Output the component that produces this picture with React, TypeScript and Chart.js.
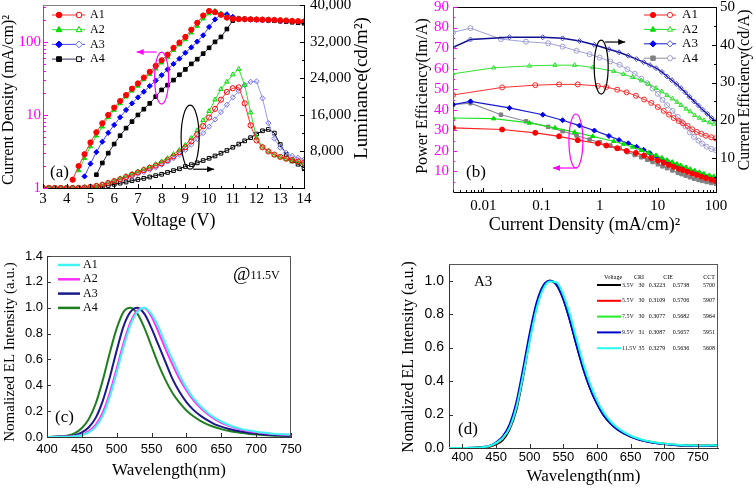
import React, { useEffect, useRef } from 'react';
import { Chart, registerables } from 'chart.js';

Chart.register(...registerables);

const SERIF = '"Liberation Serif", "Times New Roman", Times, serif';
const SANS = '"Liberation Sans", Arial, Helvetica, sans-serif';
const MAGENTA = '#ff00ff';

// ---------------- Panel (a): current density & luminance vs voltage ----------------
const voltage = [3, 3.25, 3.5, 3.75, 4, 4.25, 4.5, 4.75, 5, 5.25, 5.5, 5.75, 6, 6.25, 6.5, 6.75, 7, 7.25, 7.5, 7.75, 8, 8.25, 8.5, 8.75, 9, 9.25, 9.5, 9.75, 10, 10.25, 10.5, 10.75, 11, 11.25, 11.5, 11.75, 12, 12.25, 12.5, 12.75, 13, 13.25, 13.5, 13.75, 14];
const cdA1 = [null, null, null, null, null, 1.3, 2.0, 2.9, 4.2, 5.8, 7.7, 10, 12.6, 15.5, 18.7, 22.9, 27, 32.5, 39, 47, 56, 67, 83, 98, 117, 147, 183, 230, 265, 255, 235, 215, 207, 205, 205, 204, 203, 202, 201, 200, 198, 196, 194, 192, 190];
const cdA2 = [null, null, null, null, null, null, 1.74, 2.56, 3.7, 5.2, 6.9, 9.3, 11.7, 14.4, 17.8, 21.4, 25, 30.6, 36, 43, 52, 62, 77, 92, 108, 134, 165, 208, 245, 265, 245, 218, 208, 206, 205, 205, 204, 203, 202, 201, 199, 197, 195, 193, 191];
const cdA3 = [null, null, null, null, null, null, null, 1.44, 2.15, 3.1, 4.3, 5.7, 7.3, 9.3, 11.7, 14.4, 17.4, 20.8, 24.9, 29.5, 35, 42, 50, 59, 71, 84, 101, 123, 160, 203, 239, 239, 220, 208, 205, 203, 201, 200, 199, 197, 195, 193, 191, 189, 186];
const cdA4 = [null, null, null, null, null, null, null, null, null, 1.52, 2.2, 3.0, 4.0, 5.2, 6.6, 8.1, 10, 12, 14.4, 17.8, 22, 25.6, 30, 35.5, 42, 50, 58, 69, 83, 100, 117, 150, 196, 207, 205, 203, 201, 199, 197, 195, 192, 189, 186, 183, 180];
const lumA1 = [0, 0, 0, 0, 0, 0, 30, 100, 250, 450, 700, 1100, 1500, 1900, 2400, 2900, 3400, 3900, 4400, 4900, 5400, 6100, 6900, 7800, 8900, 10200, 11700, 13500, 15400, 17300, 19300, 21000, 21800, 22000, 18500, 13700, 10400, 8900, 8000, 7300, 6800, 6400, 6100, 5800, 5500];
const lumA2 = [0, 0, 0, 0, 0, 0, 50, 150, 300, 500, 800, 1200, 1600, 2100, 2600, 3100, 3600, 4100, 4600, 5200, 5800, 6500, 7400, 8300, 9400, 10900, 12600, 14800, 16800, 19300, 21600, 23200, 24800, 26000, 22500, 16500, 11000, 9000, 8000, 7200, 6700, 6300, 6000, 5700, 5300];
const lumA3 = [0, 0, 0, 0, 0, 0, 0, 80, 200, 400, 650, 1000, 1400, 1800, 2200, 2600, 3100, 3500, 4000, 4500, 5100, 5800, 6500, 7300, 8300, 9500, 10700, 12000, 13400, 15000, 16600, 18200, 19800, 21200, 22500, 23200, 23300, 19600, 14200, 10800, 8800, 7700, 7000, 6600, 6200];
const lumA4 = [0, 0, 0, 0, 0, 0, 0, 0, 0, 150, 350, 550, 800, 1050, 1300, 1600, 1850, 2100, 2400, 2700, 3000, 3400, 3800, 4200, 4700, 5100, 5500, 6000, 6500, 7000, 7600, 8200, 8900, 9600, 10300, 11000, 11800, 12500, 12800, 12000, 9500, 7300, 5900, 5200, 4400];
const voltageTicks = [3, 4, 5, 6, 7, 8, 9, 10, 11, 12, 13, 14];
const cdTicks = [1, 10, 100];
const lumTicks = [8000, 16000, 24000, 32000, 40000];
const deviceNames = ['A1', 'A2', 'A3', 'A4'];

// ---------------- Panel (b): efficiencies vs current density ----------------
const jA1 = [0.003, 0.021, 0.078, 0.2, 0.42, 0.93, 1.3, 2.0, 2.9, 4.2, 5.8, 7.7, 10, 12.6, 15.5, 18.7, 22.9, 27, 32.5, 39, 47, 56, 67, 83, 98];
const ceA1 = [26.7, 28.7, 29.3, 29.5, 29.5, 29.1, 28.8, 28.1, 27.4, 26.5, 25.5, 24.6, 23.5, 22.5, 21.5, 20.6, 19.8, 19.2, 18.5, 17.6, 16.9, 16.4, 15.9, 15.5, 15.2];
const peA1 = [31.2, 30.4, 28.8, 27.1, 25.2, 23.6, 22.6, 21.3, 20.0, 19.0, 17.7, 16.5, 15.3, 14.2, 13.1, 12.3, 11.3, 10.6, 9.8, 9.0, 8.3, 7.5, 6.8, 6.0, 5.4];
const jA2 = [0.003, 0.015, 0.062, 0.17, 0.37, 0.76, 1.74, 2.56, 3.7, 5.2, 6.9, 9.3, 11.7, 14.4, 17.8, 21.4, 25, 30.6, 36, 43, 52, 62, 77, 92];
const ceA2 = [32.3, 33.9, 34.4, 34.6, 34.6, 34.0, 33.0, 32.2, 31.4, 30.5, 29.6, 28.5, 27.6, 26.6, 25.7, 24.8, 24.0, 23.0, 22.3, 21.3, 20.6, 20.0, 19.4, 19.0];
const peA2 = [36.0, 35.7, 33.6, 31.2, 29.1, 27.1, 24.7, 23.3, 21.9, 20.3, 19.0, 17.8, 16.6, 15.5, 14.5, 13.6, 12.9, 12.0, 11.1, 10.4, 9.6, 8.9, 8.1, 7.6];
const jA3 = [0.003, 0.006, 0.028, 0.105, 0.23, 0.45, 0.81, 1.44, 2.15, 3.1, 4.3, 5.7, 7.3, 9.3, 11.7, 14.4, 17.4, 20.8, 24.9, 29.5, 35, 42, 50, 59, 71, 84, 99];
const ceA3 = [39.3, 41.4, 42.0, 42.0, 41.7, 41.0, 40.0, 38.8, 38.0, 37.1, 36.2, 35.4, 34.6, 33.8, 32.8, 31.6, 30.6, 29.6, 28.5, 27.4, 26.2, 25.0, 23.9, 22.8, 21.7, 20.6, 19.7];
const peA3 = [42.5, 44.1, 40.9, 37.6, 34.9, 32.3, 29.9, 27.3, 25.3, 23.7, 22.0, 20.5, 18.9, 17.4, 16.1, 15.0, 14.0, 13.0, 12.1, 11.3, 10.5, 9.7, 8.9, 8.2, 7.5, 6.9, 6.4];
const jA4 = [0.003, 0.006, 0.02, 0.054, 0.13, 0.23, 0.4, 0.67, 1.0, 1.52, 2.2, 3.0, 4.0, 5.2, 6.6, 8.1, 10, 12, 14.4, 17.8, 22, 25.6, 30, 35.5, 42, 50, 58, 69, 83, 100];
const ceA4 = [43.3, 44.4, 41.5, 40.8, 40.4, 39.5, 38.4, 37.5, 36.6, 35.6, 34.7, 33.5, 32.3, 31.0, 29.8, 28.4, 27.0, 25.4, 24.0, 22.5, 20.9, 19.6, 18.3, 16.8, 15.6, 14.6, 13.8, 13.0, 12.4, 12.0];
const peA4 = [42.5, 43.2, 37.6, 34.4, 31.7, 29.6, 27.5, 25.5, 24.2, 22.6, 21.2, 19.4, 18.0, 16.9, 15.7, 14.6, 13.5, 12.5, 11.6, 10.5, 9.4, 8.7, 8.0, 7.2, 6.5, 5.9, 5.4, 4.9, 4.4, 4.0];
const jTicks = [0.01, 0.1, 1, 10, 100];
const peTicks = [10, 20, 30, 40, 50, 60, 70, 80, 90];
const ceTicks = [10, 20, 30, 40, 50];

// ---------------- Panel (c): EL spectra @11.5V ----------------
const wlC = [400, 410, 420, 430, 440, 450, 460, 470, 480, 490, 500, 510, 520, 530, 540, 550, 560, 570, 580, 590, 600, 610, 620, 630, 640, 650, 660, 670, 680, 690, 700, 710, 720, 730, 740, 750];
const elA1 = [0, 0, 0.001, 0.002, 0.005, 0.014, 0.035, 0.08, 0.165, 0.31, 0.50, 0.70, 0.87, 0.97, 1.0, 0.95, 0.85, 0.72, 0.60, 0.48, 0.38, 0.30, 0.24, 0.19, 0.15, 0.12, 0.095, 0.076, 0.061, 0.05, 0.041, 0.034, 0.028, 0.024, 0.021, 0.019];
const elA2 = [0, 0, 0.001, 0.003, 0.007, 0.018, 0.045, 0.095, 0.19, 0.34, 0.53, 0.73, 0.89, 0.98, 0.995, 0.93, 0.81, 0.68, 0.56, 0.45, 0.36, 0.285, 0.225, 0.178, 0.14, 0.11, 0.088, 0.07, 0.056, 0.045, 0.036, 0.03, 0.025, 0.021, 0.018, 0.016];
const elA3 = [0, 0.001, 0.003, 0.006, 0.014, 0.035, 0.075, 0.15, 0.28, 0.46, 0.67, 0.86, 0.97, 1.0, 0.95, 0.84, 0.71, 0.58, 0.45, 0.35, 0.27, 0.21, 0.165, 0.13, 0.10, 0.08, 0.064, 0.05, 0.04, 0.032, 0.026, 0.021, 0.017, 0.013, 0.011, 0.009];
const elA4 = [0, 0.002, 0.005, 0.012, 0.03, 0.07, 0.14, 0.26, 0.44, 0.65, 0.84, 0.97, 1.0, 0.95, 0.84, 0.70, 0.56, 0.44, 0.34, 0.265, 0.205, 0.16, 0.125, 0.098, 0.077, 0.061, 0.048, 0.038, 0.03, 0.024, 0.019, 0.015, 0.012, 0.01, 0.008, 0.007];
const wlTicksC = [400, 450, 500, 550, 600, 650, 700, 750];
const elTicksC = [0, 0.2, 0.4, 0.6, 0.8, 1.0, 1.2, 1.4];

// ---------------- Panel (d): A3 spectra at different voltages ----------------
const wlD = [380, 390, 400, 410, 420, 430, 440, 450, 460, 470, 480, 490, 500, 510, 520, 530, 540, 550, 560, 570, 580, 590, 600, 610, 620, 630, 640, 650, 660, 670, 680, 690, 700, 710, 720, 730, 740, 750, 760, 770, 780];
const elV35 = [0, 0, 0, 0, 0.001, 0.003, 0.008, 0.022, 0.048, 0.11, 0.225, 0.42, 0.65, 0.84, 0.96, 1.0, 0.975, 0.89, 0.76, 0.61, 0.47, 0.355, 0.265, 0.195, 0.148, 0.113, 0.088, 0.069, 0.054, 0.043, 0.035, 0.029, 0.024, 0.02, 0.017, 0.015, 0.014, 0.013, 0.013, 0.014, 0.015];
const elV55 = [0, 0, 0, 0, 0.001, 0.004, 0.009, 0.026, 0.055, 0.12, 0.24, 0.44, 0.66, 0.85, 0.96, 1.0, 0.978, 0.895, 0.77, 0.62, 0.48, 0.36, 0.27, 0.2, 0.15, 0.115, 0.09, 0.07, 0.055, 0.044, 0.036, 0.03, 0.025, 0.021, 0.018, 0.016, 0.015, 0.014, 0.014, 0.015, 0.016];
const elV75 = [0, 0, 0, 0, 0.002, 0.005, 0.011, 0.03, 0.062, 0.13, 0.255, 0.455, 0.67, 0.855, 0.965, 1.0, 0.98, 0.9, 0.775, 0.625, 0.485, 0.365, 0.273, 0.202, 0.152, 0.117, 0.091, 0.071, 0.056, 0.045, 0.037, 0.03, 0.025, 0.021, 0.018, 0.016, 0.015, 0.014, 0.014, 0.015, 0.016];
const elV95 = [0, 0, 0, 0.001, 0.002, 0.006, 0.013, 0.034, 0.07, 0.14, 0.27, 0.47, 0.685, 0.865, 0.97, 1.0, 0.975, 0.89, 0.76, 0.61, 0.47, 0.355, 0.265, 0.196, 0.148, 0.113, 0.088, 0.069, 0.054, 0.043, 0.035, 0.029, 0.024, 0.02, 0.017, 0.015, 0.014, 0.013, 0.013, 0.014, 0.018];
const elV115 = [0, 0, 0, 0.001, 0.002, 0.005, 0.012, 0.03, 0.06, 0.12, 0.24, 0.43, 0.64, 0.83, 0.95, 0.995, 0.99, 0.915, 0.795, 0.645, 0.5, 0.38, 0.285, 0.212, 0.16, 0.122, 0.095, 0.074, 0.058, 0.046, 0.038, 0.031, 0.026, 0.022, 0.019, 0.017, 0.016, 0.015, 0.015, 0.016, 0.017];
const voltLabels = ['3.5V', '5.5V', '7.5V', '9.5V', '11.5V'];
const criValues = ['30', '30', '30', '31', '35'];
const cieX = ['0.3223', '0.3109', '0.3077', '0.3087', '0.3279'];
const cieY = ['0.5738', '0.5706', '0.5682', '0.5657', '0.5636'];
const cctValues = ['5700', '5907', '5964', '5951', '5608'];
const wlTicksD = [400, 450, 500, 550, 600, 650, 700, 750];
const elTicksD = [0, 0.2, 0.4, 0.6, 0.8, 1.0];

// ---------------- styles ----------------
const STYLE_A = [
  { fill: '#ff0000', line: '#ff3030', hollow: '#ff0000', hollowLine: '#ff3030', shape: 'circle' },
  { fill: '#00dd00', line: '#30e030', hollow: '#00dd00', hollowLine: '#30e030', shape: 'triangle' },
  { fill: '#0000ff', line: '#4848e8', hollow: '#7070ff', hollowLine: '#9a9af2', shape: 'rectRot' },
  { fill: '#000000', line: '#303058', hollow: '#000000', hollowLine: '#000000', shape: 'rect' },
];
const STYLE_B = [
  { fill: '#ff0000', line: '#ff2020', hollow: '#ff2828', hollowLine: '#ff3030', shape: 'circle', hshape: 'circle' },
  { fill: '#00dd00', line: '#20e020', hollow: '#30e030', hollowLine: '#30e030', shape: 'triangle', hshape: 'triangle' },
  { fill: '#0000ee', line: '#1818d0', hollow: '#5050e0', hollowLine: '#101090', shape: 'rectRot', hshape: 'rectRot' },
  { fill: '#808080', line: '#8c8c9c', hollow: '#a0a0d0', hollowLine: '#a0a0d8', shape: 'rect', hshape: 'circle' },
];
const COLORS_C = ['#40f4f4', '#ff30ff', '#1a1a8a', '#1f7f1f'];
const COLORS_D = ['#000000', '#ff0000', '#22ee22', '#0000cc', '#22ffee'];

// ---------------- drawing helpers ----------------
function setTicks(vals) {
  return (s) => { s.ticks = vals.map((v) => ({ value: v })); };
}
function fixW(w) {
  return (s) => { s.width = w; s.paddingTop = 0; s.paddingBottom = 0; };
}
function fixH(h) {
  return (s) => { s.height = h; s.paddingLeft = 0; s.paddingRight = 0; };
}
function seg(ctx, x1, y1, x2, y2, color, w = 1) {
  ctx.save();
  ctx.strokeStyle = color;
  ctx.lineWidth = w;
  ctx.beginPath();
  ctx.moveTo(x1, y1);
  ctx.lineTo(x2, y2);
  ctx.stroke();
  ctx.restore();
}
function inTicks(ctx, scale, vals, len, color) {
  const ca = scale.chart.chartArea;
  ctx.save();
  ctx.strokeStyle = color;
  ctx.lineWidth = 1;
  ctx.beginPath();
  vals.forEach((v) => {
    const p = Math.round(scale.getPixelForValue(v)) + 0.5;
    if (scale.position === 'bottom') { ctx.moveTo(p, ca.bottom); ctx.lineTo(p, ca.bottom - len); }
    else if (scale.position === 'left') { ctx.moveTo(ca.left, p); ctx.lineTo(ca.left + len, p); }
    else { ctx.moveTo(ca.right, p); ctx.lineTo(ca.right - len, p); }
  });
  ctx.stroke();
  ctx.restore();
}
function vText(ctx, text, x, y, font, color = '#000') {
  ctx.save();
  ctx.translate(x, y);
  ctx.rotate(-Math.PI / 2);
  ctx.font = font;
  ctx.fillStyle = color;
  ctx.textAlign = 'center';
  ctx.textBaseline = 'middle';
  ctx.fillText(text, 0, 0);
  ctx.restore();
}
function hText(ctx, text, x, y, font, color = '#000', align = 'center') {
  ctx.save();
  ctx.font = font;
  ctx.fillStyle = color;
  ctx.textAlign = align;
  ctx.textBaseline = 'middle';
  ctx.fillText(text, x, y);
  ctx.restore();
}
function marker(ctx, shape, x, y, r, color, filled) {
  ctx.save();
  ctx.beginPath();
  if (shape === 'circle') ctx.arc(x, y, r, 0, Math.PI * 2);
  else if (shape === 'triangle') { ctx.moveTo(x, y - r * 1.15); ctx.lineTo(x + r, y + r * 0.7); ctx.lineTo(x - r, y + r * 0.7); ctx.closePath(); }
  else if (shape === 'rectRot') { ctx.moveTo(x, y - r * 1.2); ctx.lineTo(x + r * 1.2, y); ctx.lineTo(x, y + r * 1.2); ctx.lineTo(x - r * 1.2, y); ctx.closePath(); }
  else ctx.rect(x - r * 0.85, y - r * 0.85, r * 1.7, r * 1.7);
  ctx.lineWidth = 1;
  ctx.strokeStyle = color;
  if (filled) { ctx.fillStyle = color; ctx.fill(); } else { ctx.fillStyle = '#fff'; ctx.fill(); }
  ctx.stroke();
  ctx.restore();
}
function ellipse(ctx, cx, cy, rx, ry, color) {
  ctx.save();
  ctx.strokeStyle = color;
  ctx.lineWidth = 1.2;
  ctx.beginPath();
  ctx.ellipse(cx, cy, rx, ry, 0, 0, Math.PI * 2);
  ctx.stroke();
  ctx.restore();
}
function arrow(ctx, x1, y1, x2, y2, color) {
  seg(ctx, x1, y1, x2, y2, color, 1.2);
  const dir = Math.sign(x2 - x1) || 1;
  ctx.save();
  ctx.fillStyle = color;
  ctx.beginPath();
  ctx.moveTo(x2, y2);
  ctx.lineTo(x2 - dir * 7, y2 - 3);
  ctx.lineTo(x2 - dir * 7, y2 + 3);
  ctx.closePath();
  ctx.fill();
  ctx.restore();
}

const baseOptions = {
  animation: false,
  responsive: false,
  maintainAspectRatio: false,
  devicePixelRatio: 1,
  events: [],
  plugins: { legend: { display: false }, tooltip: { enabled: false } },
};
const noGrid = { display: false, drawTicks: false };

// ---------------- panel builders ----------------
function buildA() {
  const cd = [cdA1, cdA2, cdA3, cdA4];
  const lum = [lumA1, lumA2, lumA3, lumA4];
  const datasets = [];
  STYLE_A.forEach((s, k) => {
    datasets.push({
      label: deviceNames[k] + ' J', yAxisID: 'y',
      data: voltage.map((v, i) => ({ x: v, y: cd[k][i] })),
      borderColor: s.line, borderWidth: 1, pointStyle: s.shape, pointRadius: 2.6,
      pointBackgroundColor: s.fill, pointBorderColor: s.fill, pointBorderWidth: 1,
    });
    datasets.push({
      label: deviceNames[k] + ' L', yAxisID: 'y2',
      data: voltage.map((v, i) => ({ x: v, y: lum[k][i] })),
      borderColor: s.hollowLine, borderWidth: 1, pointStyle: s.shape, pointRadius: 2.6,
      pointBackgroundColor: 'rgba(255,255,255,0)', pointBorderColor: s.hollow, pointBorderWidth: 1,
    });
  });
  const deco = {
    id: 'decoA',
    afterDraw(chart) {
      const { ctx, chartArea: ca, scales } = chart;
      const { x, y, y2 } = scales;
      seg(ctx, ca.left, ca.top + 0.5, ca.right, ca.top + 0.5, '#808080');
      inTicks(ctx, x, voltageTicks, 4, '#000');
      inTicks(ctx, x, [3.5, 4.5, 5.5, 6.5, 7.5, 8.5, 9.5, 10.5, 11.5, 12.5, 13.5], 2, '#000');
      inTicks(ctx, y, cdTicks, 5, MAGENTA);
      inTicks(ctx, y, [2, 3, 4, 5, 6, 7, 8, 9, 20, 30, 40, 50, 60, 70, 80, 90, 200, 300], 3, MAGENTA);
      inTicks(ctx, y2, lumTicks, 4, '#000');
      inTicks(ctx, y2, [4000, 12000, 20000, 28000, 36000], 2, '#000');
      vText(ctx, 'Current Density (mA/cm)²', 9, 100, `16px ${SERIF}`);
      vText(ctx, 'Luminance(cd/m²)', 362, 88, `19px ${SERIF}`);
      hText(ctx, 'Voltage (V)', (ca.left + ca.right) / 2, 221, `18px ${SERIF}`);
      hText(ctx, '(a)', ca.left + 7, ca.bottom - 15, `17px ${SERIF}`, '#000', 'left');
      STYLE_A.forEach((s, k) => {
        const ly = ca.top + 10 + k * 14.7;
        seg(ctx, ca.left + 9, ly, ca.left + 42, ly, s.line);
        marker(ctx, s.shape, ca.left + 16, ly, 2.8, s.fill, true);
        marker(ctx, s.shape, ca.left + 36, ly, 2.8, s.hollow, false);
        hText(ctx, deviceNames[k], ca.left + 47, ly, `12px ${SERIF}`, '#000', 'left');
      });
      const mx = x.getPixelForValue(8.0), my = y.getPixelForValue(32);
      ellipse(ctx, mx, my, 7, 26, MAGENTA);
      arrow(ctx, mx - 5, my - 26, mx - 25, my - 26, MAGENTA);
      const bx = x.getPixelForValue(9.2), by = y2.getPixelForValue(11100);
      ellipse(ctx, bx, by, 9, 32, '#000');
      arrow(ctx, bx + 3, by + 32, bx + 24, by + 32, '#000');
    },
  };
  return {
    type: 'line',
    data: { datasets },
    options: {
      ...baseOptions,
      layout: { padding: { top: 5, left: 0, right: 0, bottom: 0 } },
      scales: {
        x: {
          type: 'linear', position: 'bottom', min: 3, max: 14,
          afterBuildTicks: setTicks(voltageTicks), afterFit: fixH(57),
          grid: noGrid, border: { display: true, color: '#000', width: 1 },
          ticks: { font: { family: SERIF, size: 15 }, color: '#000', padding: 2, autoSkip: false, maxRotation: 0, callback: (v) => String(v) },
        },
        y: {
          type: 'logarithmic', position: 'left', min: 1, max: 320,
          afterBuildTicks: setTicks(cdTicks), afterFit: fixW(43),
          grid: noGrid, border: { display: true, color: MAGENTA, width: 1 },
          ticks: { font: { family: SERIF, size: 15 }, color: MAGENTA, padding: 2, autoSkip: false, callback: (v) => String(v) },
        },
        y2: {
          type: 'linear', position: 'right', min: 0, max: 40000,
          afterBuildTicks: setTicks(lumTicks), afterFit: fixW(72),
          grid: noGrid, border: { display: true, color: '#000', width: 1 },
          ticks: { font: { family: SERIF, size: 15 }, color: '#000', padding: 6, autoSkip: false, callback: (v) => Number(v).toLocaleString('en-US') },
        },
      },
    },
    plugins: [deco],
  };
}

function buildB() {
  const js = [jA1, jA2, jA3, jA4];
  const ces = [ceA1, ceA2, ceA3, ceA4];
  const pes = [peA1, peA2, peA3, peA4];
  const datasets = [];
  STYLE_B.forEach((s, k) => {
    datasets.push({
      label: deviceNames[k] + ' CE', yAxisID: 'y2',
      data: js[k].map((j, i) => ({ x: j, y: ces[k][i] })),
      borderColor: s.hollowLine, borderWidth: k === 2 ? 1.5 : 1, pointStyle: s.hshape, pointRadius: 2.5,
      pointBackgroundColor: 'rgba(255,255,255,0)', pointBorderColor: s.hollow, pointBorderWidth: 1,
    });
    datasets.push({
      label: deviceNames[k] + ' PE', yAxisID: 'y',
      data: js[k].map((j, i) => ({ x: j, y: pes[k][i] })),
      borderColor: s.line, borderWidth: 1.2, pointStyle: s.shape, pointRadius: 2.5,
      pointBackgroundColor: s.fill, pointBorderColor: s.fill, pointBorderWidth: 1,
    });
  });
  const deco = {
    id: 'decoB',
    afterDraw(chart) {
      const { ctx, chartArea: ca, scales } = chart;
      const { x, y, y2 } = scales;
      seg(ctx, ca.left, ca.top + 0.5, ca.right, ca.top + 0.5, '#000');
      inTicks(ctx, x, jTicks, 4, '#000');
      inTicks(ctx, x, [0.003, 0.004, 0.005, 0.006, 0.007, 0.008, 0.009, 0.02, 0.03, 0.04, 0.05, 0.06, 0.07, 0.08, 0.09, 0.2, 0.3, 0.4, 0.5, 0.6, 0.7, 0.8, 0.9, 2, 3, 4, 5, 6, 7, 8, 9, 20, 30, 40, 50, 60, 70, 80, 90], 2, '#000');
      inTicks(ctx, y, peTicks, 4, MAGENTA);
      inTicks(ctx, y, [5, 15, 25, 35, 45, 55, 65, 75, 85], 2, MAGENTA);
      inTicks(ctx, y2, ceTicks, 4, '#000');
      inTicks(ctx, y2, [5, 15, 25, 35, 45], 2, '#000');
      vText(ctx, 'Power Efficiency(Im/A)', 47, 96, `16px ${SERIF}`);
      vText(ctx, 'Current Efficiency(cd/A)', 369, 90, `16px ${SERIF}`);
      hText(ctx, 'Current Density (mA/cm)²', (ca.left + ca.right) / 2, 225, `18px ${SERIF}`);
      hText(ctx, '(b)', ca.left + 13, ca.bottom - 19, `17px ${SERIF}`, '#000', 'left');
      STYLE_B.forEach((s, k) => {
        const ly = ca.top + 8 + k * 14.4;
        seg(ctx, ca.left + 191, ly, ca.left + 223, ly, s.line);
        marker(ctx, s.shape, ca.left + 200, ly, 2.6, s.fill, true);
        marker(ctx, s.hshape, ca.left + 217, ly, 2.6, s.hollow, false);
        hText(ctx, deviceNames[k], ca.left + 229, ly, `13px ${SERIF}`, '#000', 'left');
      });
      const bx = x.getPixelForValue(1.06), by = y2.getPixelForValue(34.1);
      ellipse(ctx, bx, by, 7, 27, '#000');
      arrow(ctx, bx + 4, by - 25, bx + 24, by - 25, '#000');
      const mx = x.getPixelForValue(0.39), my = y.getPixelForValue(24.8);
      ellipse(ctx, mx, my, 7, 27, MAGENTA);
      arrow(ctx, mx + 1, my + 27, mx - 23, my + 27, MAGENTA);
    },
  };
  return {
    type: 'line',
    data: { datasets },
    options: {
      ...baseOptions,
      layout: { padding: { top: 7, left: 0, right: 0, bottom: 0 } },
      scales: {
        x: {
          type: 'logarithmic', position: 'bottom', min: 0.003, max: 100,
          afterBuildTicks: setTicks(jTicks), afterFit: fixH(53),
          grid: noGrid, border: { display: true, color: '#000', width: 1 },
          ticks: { font: { family: SERIF, size: 15 }, color: '#000', padding: 5, autoSkip: false, maxRotation: 0, callback: (v) => String(v) },
        },
        y: {
          type: 'linear', position: 'left', min: 0, max: 90,
          afterBuildTicks: setTicks(peTicks), afterFit: fixW(77),
          grid: noGrid, border: { display: true, color: MAGENTA, width: 1 },
          ticks: { font: { family: SERIF, size: 15 }, color: MAGENTA, padding: 4, autoSkip: false, callback: (v) => String(v) },
        },
        y2: {
          type: 'linear', position: 'right', min: 1, max: 50,
          afterBuildTicks: setTicks(ceTicks), afterFit: fixW(40),
          grid: noGrid, border: { display: true, color: '#000', width: 1 },
          ticks: { font: { family: SERIF, size: 15 }, color: '#000', padding: 4, autoSkip: false, callback: (v) => String(v) },
        },
      },
    },
    plugins: [deco],
  };
}

function buildC() {
  const series = [elA1, elA2, elA3, elA4];
  const datasets = series.map((arr, k) => ({
    label: deviceNames[k],
    data: wlC.map((w, i) => ({ x: w, y: arr[i] })),
    borderColor: COLORS_C[k], borderWidth: 2, pointRadius: 0, cubicInterpolationMode: 'monotone',
  }));
  const deco = {
    id: 'decoC',
    afterDraw(chart) {
      const { ctx, chartArea: ca, scales } = chart;
      const { x, y } = scales;
      seg(ctx, ca.left, ca.top + 0.5, ca.right, ca.top + 0.5, '#555');
      seg(ctx, ca.right - 0.5, ca.top, ca.right - 0.5, ca.bottom, '#555');
      inTicks(ctx, x, wlTicksC, 4, '#333');
      inTicks(ctx, y, elTicksC, 4, '#333');
      vText(ctx, 'Nomalized EL Intensity (a.u.)', 10, 107, `15px ${SERIF}`);
      hText(ctx, 'Wavelength(nm)', (ca.left + ca.right) / 2, 226, `17px ${SERIF}`);
      hText(ctx, '(c)', ca.left + 8, ca.bottom - 19, `17px ${SERIF}`, '#000', 'left');
      COLORS_C.forEach((c, k) => {
        const ly = ca.top + 9 + k * 14.3;
        seg(ctx, ca.left + 11, ly, ca.left + 33, ly, c, 2.5);
        hText(ctx, deviceNames[k], ca.left + 36, ly, `12px ${SERIF}`, '#000', 'left');
      });
      ctx.save();
      ctx.font = `19px ${SERIF}`;
      const ax = ca.left + 186, ay = ca.top + 19;
      const w = ctx.measureText('@').width;
      ctx.restore();
      hText(ctx, '@', ax, ay, `19px ${SERIF}`, '#000', 'left');
      hText(ctx, '11.5V', ax + w, ay + 1, `12px ${SERIF}`, '#000', 'left');
    },
  };
  return {
    type: 'line',
    data: { datasets },
    options: {
      ...baseOptions,
      layout: { padding: { top: 11, left: 0, right: 0, bottom: 0 } },
      scales: {
        x: {
          type: 'linear', position: 'bottom', min: 400, max: 750,
          afterBuildTicks: setTicks(wlTicksC), afterFit: fixH(51),
          grid: noGrid, border: { display: true, color: '#333', width: 1 },
          ticks: { font: { family: SANS, size: 13 }, color: '#000', padding: 5, autoSkip: false, maxRotation: 0, callback: (v) => String(v) },
        },
        y: {
          type: 'linear', position: 'left', min: 0, max: 1.4,
          afterBuildTicks: setTicks(elTicksC), afterFit: fixW(47),
          grid: noGrid, border: { display: true, color: '#333', width: 1 },
          ticks: { font: { family: SANS, size: 13 }, color: '#000', padding: 4, autoSkip: false, callback: (v) => Number(v).toFixed(1) },
        },
        yr: {
          type: 'linear', position: 'right', display: true, min: 0, max: 1.4,
          afterFit: fixW(85), grid: noGrid, border: { display: false }, ticks: { display: false },
        },
      },
    },
    plugins: [deco],
  };
}

function buildD() {
  const series = [elV35, elV55, elV75, elV95, elV115];
  const datasets = series.map((arr, k) => ({
    label: voltLabels[k],
    data: wlD.map((w, i) => ({ x: w, y: arr[i] })),
    borderColor: COLORS_D[k], borderWidth: 2, pointRadius: 0, cubicInterpolationMode: 'monotone',
    order: 5 - k,
  }));
  const deco = {
    id: 'decoD',
    afterDraw(chart) {
      const { ctx, chartArea: ca, scales } = chart;
      const { x, y } = scales;
      seg(ctx, ca.left, ca.top + 0.5, ca.right, ca.top + 0.5, '#555');
      seg(ctx, ca.right - 0.5, ca.top, ca.right - 0.5, ca.bottom, '#555');
      inTicks(ctx, x, wlTicksD, 4, '#333');
      inTicks(ctx, y, elTicksD, 4, '#333');
      vText(ctx, 'Nomalized EL Intensity (a.u.)', 33, 112, `16px ${SERIF}`);
      hText(ctx, 'Wavelength(nm)', (ca.left + ca.right) / 2, 232, `17px ${SERIF}`);
      hText(ctx, 'A3', ca.left + 25, ca.top + 18, `15px ${SERIF}`, '#000', 'left');
      hText(ctx, '(d)', ca.left + 9, ca.bottom - 18, `17px ${SERIF}`, '#000', 'left');
      const f = `6px ${SERIF}`;
      hText(ctx, 'Voltage', 237, 32, f);
      hText(ctx, 'CRI', 263, 32, f);
      hText(ctx, 'CIE', 292, 32, f);
      hText(ctx, 'CCT', 333, 32, f);
      COLORS_D.forEach((c, k) => {
        const ry = 40 + k * 15.8;
        seg(ctx, 221, ry, 245, ry, c, 2);
        hText(ctx, voltLabels[k], 246, ry, f, '#223', 'left');
        hText(ctx, criValues[k], 265.5, ry, f);
        hText(ctx, cieX[k], 281, ry, f);
        hText(ctx, cieY[k], 305, ry, f);
        hText(ctx, cctValues[k], 333, ry, f);
      });
    },
  };
  return {
    type: 'line',
    data: { datasets },
    options: {
      ...baseOptions,
      layout: { padding: { top: 19, left: 0, right: 0, bottom: 0 } },
      scales: {
        x: {
          type: 'linear', position: 'bottom', min: 380, max: 780,
          afterBuildTicks: setTicks(wlTicksD), afterFit: fixH(40),
          grid: noGrid, border: { display: true, color: '#333', width: 1 },
          ticks: { font: { family: SANS, size: 13 }, color: '#000', padding: 2, autoSkip: false, maxRotation: 0, callback: (v) => String(v) },
        },
        y: {
          type: 'linear', position: 'left', min: 0, max: 1.1,
          afterBuildTicks: setTicks(elTicksD), afterFit: fixW(73),
          grid: noGrid, border: { display: true, color: '#333', width: 1 },
          ticks: { font: { family: SANS, size: 14 }, color: '#000', padding: 5, autoSkip: false, callback: (v) => Number(v).toFixed(1) },
        },
        yr: {
          type: 'linear', position: 'right', display: true, min: 0, max: 1.1,
          afterFit: fixW(38), grid: noGrid, border: { display: false }, ticks: { display: false },
        },
      },
    },
    plugins: [deco],
  };
}

function Panel({ left, top, width, height, build }) {
  const ref = useRef(null);
  useEffect(() => {
    const chart = new Chart(ref.current, build());
    return () => chart.destroy();
  }, [build]);
  return (
    <canvas
      ref={ref}
      width={width}
      height={height}
      style={{ position: 'absolute', left, top, width, height, display: 'block' }}
    />
  );
}

export default function App() {
  return (
    <div style={{ position: 'absolute', left: 0, top: 0, width: 756, height: 488, background: '#fff', overflow: 'hidden' }}>
      <Panel left={0} top={0} width={376} height={245} build={buildA} />
      <Panel left={376} top={0} width={380} height={245} build={buildB} />
      <Panel left={0} top={245} width={376} height={243} build={buildC} />
      <Panel left={376} top={245} width={380} height={243} build={buildD} />
    </div>
  );
}
